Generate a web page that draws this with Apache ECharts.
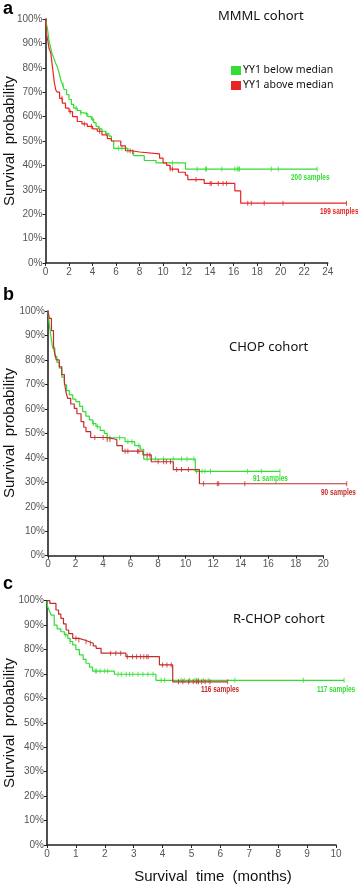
<!DOCTYPE html>
<html><head><meta charset="utf-8">
<script src="https://cdn.jsdelivr.net/npm/echarts@6/dist/echarts.min.js"></script>
<style>html,body{margin:0;padding:0;background:#fff}#c{width:358px;height:886px}</style>
</head><body><div id="c"></div>
<script>
// ---- Panel a: MMML cohort ----
const mmmlBelow = [[0,100],[0.1,97.5],[0.2,95],[0.3,91],[0.4,89],[0.55,86],[0.7,84],[0.85,82],[1.0,80.5],[1.15,78],[1.3,75],[1.45,73],[1.6,71],[1.8,69],[2.0,67],[2.2,65],[2.4,63.5],[2.7,62.5],[3.0,61.5],[3.3,61],[3.6,60],[3.9,59],[4.1,57.5],[4.3,56],[4.5,55],[4.8,54],[5.1,53],[5.4,52],[5.6,50],[5.8,47],[7.0,46],[7.5,44],[8.4,42],[9.4,41],[11.9,38.5],[23.1,38.5]];
const mmmlAbove = [[0,100],[0.1,93.5],[0.2,91],[0.3,88],[0.45,86],[0.55,82],[0.65,78],[0.75,74],[0.87,71],[1.0,70],[1.2,67.5],[1.43,65.5],[1.7,63.5],[2.0,62],[2.3,60],[2.7,58],[3.1,57],[3.55,56],[4.0,55],[4.4,54],[4.8,52.5],[5.26,51],[5.6,50],[6.4,48],[6.8,46],[7.3,45.5],[8.0,44.7],[9.7,43],[10.0,41],[10.3,40],[10.6,38.5],[11.3,37.2],[11.9,36],[12.1,34.2],[13.5,32.6],[16.1,29.6],[16.6,24.5],[25.6,24.5]];
const mmmlBelowCensor = [1.5,2.6,3.0,3.5,4.0,4.6,5.2,6.2,6.5,7.0,10.8,12.9,13.6,13.7,15.0,16.1,16.3,16.4,16.5,19.2,19.8,23.1];
const mmmlAboveCensor = [1.4,2.1,3.3,3.9,4.6,7.2,7.4,10.6,10.8,12.8,14.0,14.1,14.7,15.1,15.4,17.2,17.5,18.6,20.2,25.6];
const mmmlXTicks = [0,24,2];

// ---- Panel b: CHOP cohort ----
const chopBelow = [[0,100],[0.1,94.3],[0.2,90],[0.34,84.8],[0.5,81.5],[0.65,79],[0.82,76.6],[1.0,73],[1.19,69.8],[1.35,67.5],[1.55,65.7],[1.8,64],[2.03,63],[2.3,61],[2.52,58.9],[2.75,57],[3.0,55.5],[3.25,54],[3.49,52.7],[3.8,51.2],[4.09,50],[4.3,48.2],[5.6,46.6],[6.3,45],[6.7,43.5],[6.95,39.5],[10.7,34.5],[16.85,34.5]];
const chopAbove = [[0,100],[0.1,97],[0.25,92],[0.4,86],[0.46,83.4],[0.6,80],[0.82,77.2],[1.0,74],[1.19,71.1],[1.3,67],[1.43,64.3],[1.65,62],[1.91,60.2],[2.1,58],[2.4,54.8],[2.6,52.5],[2.76,50.7],[3.1,48.3],[4.3,47.5],[5.0,45],[5.4,42.7],[6.9,41.2],[7.5,38.4],[9.1,35.2],[11.0,29.4],[21.7,29.4]];
const chopBelowCensor = [3.3,3.6,4.3,4.5,5.2,5.8,6.1,6.6,7.2,7.8,8.4,9.1,9.7,10.1,10.6,10.8,11.2,11.4,11.8,14.5,15.5,16.85];
const chopAboveCensor = [3.4,4.0,4.3,4.5,5.6,5.8,6.5,6.6,7.2,7.4,8.0,8.4,8.6,8.9,9.35,9.7,10.2,11.3,12.3,12.4,14.3,21.7];
const chopXTicks = [0,20,2];

// ---- Panel c: R-CHOP cohort ----
const rchopBelow = [[0,100],[0.02,97.5],[0.08,96],[0.14,94.1],[0.25,90],[0.35,88.5],[0.48,87.3],[0.6,86],[0.72,84.6],[0.8,83.3],[0.89,81.9],[1.0,80],[1.12,77.8],[1.25,76],[1.35,74.4],[1.47,72.8],[1.58,71.2],[2.33,69.9],[3.77,67.4],[10.28,67.4]];
const rchopAbove = [[0,100],[0.1,98.9],[0.31,96.2],[0.4,94.5],[0.48,92.8],[0.57,90.5],[0.66,88],[0.75,86.5],[0.89,84.6],[1.1,83.9],[1.3,83.2],[1.46,82.6],[1.6,81.5],[1.7,80.5],[1.87,78.5],[2.73,77.1],[3.89,73.7],[4.35,66.8],[6.25,66.8]];
const rchopBelowCensor = [0.65,0.8,1.67,1.72,1.84,2.0,2.1,2.46,2.57,2.74,2.86,2.97,3.15,3.32,3.49,3.67,3.95,4.07,4.64,4.75,4.93,5.12,5.18,5.24,5.41,5.58,6.5,8.87,10.28];
const rchopAboveCensor = [1.0,1.1,1.35,1.5,2.2,2.38,2.55,2.78,2.96,3.1,3.24,3.35,3.45,3.5,4.0,4.15,4.3,4.55,4.7,4.9,5.06,5.18,5.24,5.35,5.47,5.64,6.25];
const rchopXTicks = [0,10,1];

const yTicks = [0,100,10];
const seriesNames = ['YY1 below median','YY1 above median'];
const sampleLabels = [['200 samples','199 samples'],['91 samples','90 samples'],['117 samples','116 samples']];
const cohortTitles = ['MMML cohort','CHOP cohort','R-CHOP cohort'];
const panelLetters = ['a','b','c'];

const GREEN = '#33dd33', RED_A = '#e82424', RED_BC = '#c42b2b';
function survAt(curve, t){ let s = curve[0][1]; for (const p of curve){ if (p[0] <= t) s = p[1]; } return s; }

// ext = extended x range of a hidden twin axis (same scale) so follow-up beyond the drawn axis stays visible
const panels = [
  {below: mmmlBelow, above: mmmlAbove, bc: mmmlBelowCensor, ac: mmmlAboveCensor, xt: mmmlXTicks, ext: 26, red: RED_A,
   grid: {left: 45.5, top: 19, width: 282.2, height: 244}},
  {below: chopBelow, above: chopAbove, bc: chopBelowCensor, ac: chopAboveCensor, xt: chopXTicks, ext: 22, red: RED_BC,
   grid: {left: 48, top: 311, width: 275.3, height: 244.7}},
  {below: rchopBelow, above: rchopAbove, bc: rchopBelowCensor, ac: rchopAboveCensor, xt: rchopXTicks, ext: 11, red: RED_BC,
   grid: {left: 47, top: 600.7, width: 289, height: 244.3}}
];

const tickFont = {fontFamily: '"Liberation Sans Narrow", "Liberation Sans", Arial', fontSize: 10, color: '#555'};
const grids = [], xAxes = [], yAxes = [], series = [];
const n = panels.length;
panels.forEach((p, i) => {
  grids.push(Object.assign({outerBoundsMode: 'none', containLabel: false}, p.grid));
  xAxes.push({type: 'value', gridIndex: i, min: p.xt[0], max: p.xt[1], interval: p.xt[2],
    axisLine: {show: true, onZero: false, lineStyle: {color: '#222', width: 1.6}},
    axisTick: {show: true, length: 3, lineStyle: {color: '#222'}},
    axisLabel: Object.assign({margin: 4}, tickFont), splitLine: {show: false}});
  yAxes.push({type: 'value', gridIndex: i, min: yTicks[0], max: yTicks[1], interval: yTicks[2],
    axisLine: {show: true, onZero: false, lineStyle: {color: '#222', width: 1.6}},
    axisTick: {show: true, length: 3, lineStyle: {color: '#222'}},
    axisLabel: Object.assign({margin: 3, formatter: '{value}%'}, tickFont), splitLine: {show: false}});
});
panels.forEach((p, i) => {
  const g = p.grid;
  grids.push({outerBoundsMode: 'none', containLabel: false, left: g.left, top: g.top, height: g.height,
    width: g.width * (p.ext - p.xt[0]) / (p.xt[1] - p.xt[0])});
  xAxes.push({type: 'value', gridIndex: n + i, min: p.xt[0], max: p.ext, show: false});
  yAxes.push({type: 'value', gridIndex: n + i, min: yTicks[0], max: yTicks[1], show: false});
  const ax = n + i;
  const nb = i === 0 ? seriesNames[0] : seriesNames[0] + ' ' + i;
  const na = i === 0 ? seriesNames[1] : seriesNames[1] + ' ' + i;
  series.push({type: 'line', name: nb, xAxisIndex: ax, yAxisIndex: ax, step: 'end', data: p.below,
    showSymbol: false, color: GREEN, lineStyle: {color: GREEN, width: 1.2}, z: 3});
  series.push({type: 'line', name: na, xAxisIndex: ax, yAxisIndex: ax, step: 'end', data: p.above,
    showSymbol: false, color: p.red, lineStyle: {color: p.red, width: 1.2}, z: 4});
  series.push({type: 'scatter', xAxisIndex: ax, yAxisIndex: ax, symbol: 'rect', symbolSize: [1, 5],
    itemStyle: {color: GREEN}, data: p.bc.map(t => [t, survAt(p.below, t)]), z: 3});
  series.push({type: 'scatter', xAxisIndex: ax, yAxisIndex: ax, symbol: 'rect', symbolSize: [1, 5],
    itemStyle: {color: p.red}, data: p.ac.map(t => [t, survAt(p.above, t)]), z: 4});
});

const sf = 'bold 9px "Liberation Sans", Arial';
function sampleText(txt, x, y, color){
  return {type: 'text', x: x, y: y, scaleX: 0.72, style: {text: txt, font: sf, fill: color, align: 'left', verticalAlign: 'middle'}};
}
const letterFont = 'bold 18px "Liberation Sans", Arial';
const titleFont = '13px "Noto Sans"';
const axisTitleFont = '15px "Liberation Sans", Arial';
function yTitle(y){
  return {type: 'text', x: 10, y: y, rotation: Math.PI / 2, style: {text: 'Survival  probability', font: axisTitleFont, fill: '#111', align: 'center', verticalAlign: 'middle'}};
}
const graphic = [
  {type: 'text', left: 3, top: 0, style: {text: panelLetters[0], font: letterFont, fill: '#000'}},
  {type: 'text', left: 3, top: 286, style: {text: panelLetters[1], font: letterFont, fill: '#000'}},
  {type: 'text', left: 3, top: 575, style: {text: panelLetters[2], font: letterFont, fill: '#000'}},
  {type: 'text', left: 218, top: 10, style: {text: cohortTitles[0], font: titleFont, fill: '#111'}},
  {type: 'text', left: 229, top: 341, style: {text: cohortTitles[1], font: titleFont, fill: '#111'}},
  {type: 'text', left: 233, top: 613, style: {text: cohortTitles[2], font: titleFont, fill: '#111'}},
  sampleText(sampleLabels[0][0], 291, 177.5, GREEN),
  sampleText(sampleLabels[0][1], 320, 211.5, RED_A),
  sampleText(sampleLabels[1][0], 253, 479, GREEN),
  sampleText(sampleLabels[1][1], 321, 492.5, RED_BC),
  sampleText(sampleLabels[2][0], 317, 690, GREEN),
  sampleText(sampleLabels[2][1], 201, 690, RED_BC),
  yTitle(141), yTitle(433), yTitle(723),
  {type: 'text', x: 213, y: 877, style: {text: 'Survival  time  (months)', font: axisTitleFont, fill: '#111', align: 'center', verticalAlign: 'middle'}}
];

const chart = echarts.init(document.getElementById('c'), null, {renderer: 'canvas'});
chart.setOption({
  animation: false,
  backgroundColor: '#fff',
  grid: grids, xAxis: xAxes, yAxis: yAxes, series: series, graphic: graphic,
  legend: {data: seriesNames, orient: 'vertical', left: 231, top: 65, padding: 0, itemWidth: 10, itemHeight: 9, itemGap: 4, icon: 'rect',
    textStyle: {fontFamily: '"Noto Sans"', fontSize: 10.5, color: '#111', padding: [0,0,0,-3]}, selectedMode: false}
});
</script></body></html>
